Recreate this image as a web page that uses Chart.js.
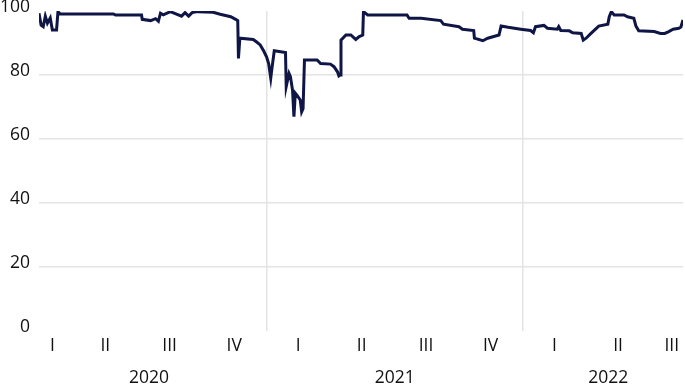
<!DOCTYPE html>
<html>
<head>
<meta charset="utf-8">
<script src="https://cdn.jsdelivr.net/npm/chart.js@4/dist/chart.umd.min.js"></script>
<style>
  html, body { margin: 0; padding: 0; background: #ffffff; }
  #wrap { width: 685px; height: 387px; }
</style>
</head>
<body>
<div id="wrap"><canvas id="c" width="685" height="387"></canvas></div>
<script>
// ---- data ----
const dates = [
  "2020-02-12","2020-02-15","2020-02-18","2020-02-21","2020-02-24","2020-02-28","2020-03-02","2020-03-08","2020-03-10","2020-03-13",
  "2020-05-28","2020-05-31","2020-07-07","2020-07-08","2020-07-20","2020-07-27","2020-07-31","2020-08-03","2020-08-07","2020-08-17",
  "2020-09-02","2020-09-07","2020-09-12","2020-09-17","2020-09-25","2020-10-17","2020-10-27","2020-11-11","2020-11-18","2020-11-21",
  "2020-11-22","2020-11-24","2020-12-13","2020-12-18","2020-12-23","2020-12-28","2021-01-01","2021-01-04","2021-01-07","2021-01-09",
  "2021-01-12","2021-01-28","2021-01-29","2021-02-02","2021-02-04","2021-02-07","2021-02-09","2021-02-11","2021-02-14","2021-02-18",
  "2021-02-20","2021-02-22","2021-02-24","2021-03-14","2021-03-19","2021-04-02","2021-04-07","2021-04-12","2021-04-14","2021-04-16",
  "2021-04-17","2021-04-24","2021-05-01","2021-05-08","2021-05-13","2021-05-18","2021-05-19","2021-05-25","2021-07-20","2021-07-23",
  "2021-08-09","2021-09-06","2021-09-10","2021-10-02","2021-10-07","2021-10-23","2021-10-24","2021-11-05","2021-11-12","2021-11-23",
  "2021-11-28","2021-12-01","2021-12-11","2021-12-29","2022-01-12","2022-01-16","2022-01-19","2022-01-31","2022-02-05","2022-02-19",
  "2022-02-21","2022-02-24","2022-03-08","2022-03-13","2022-03-25","2022-03-28","2022-04-01","2022-04-08","2022-04-19","2022-05-02",
  "2022-05-04","2022-05-07","2022-05-11","2022-05-25","2022-05-30","2022-06-08","2022-06-11","2022-06-15","2022-07-07","2022-07-16",
  "2022-07-22","2022-07-27","2022-08-03","2022-08-11","2022-08-14","2022-08-17"
];
const values = [
  99.3,95.6,95.1,98.4,96.2,97.8,94.1,94.1,99.8,99.1,
  99.1,98.75,98.75,97.4,97.0,97.6,96.8,99.3,98.8,99.8,
  98.4,99.5,98.4,99.5,99.8,99.6,99.0,98.2,97.4,97.0,
  85.2,91.5,91.1,90.3,89.4,87.5,85.7,83.6,79.0,82.6,
  87.6,87.0,76.4,80.5,79.5,75.3,67.0,74.3,73.5,72.2,
  68.5,69.5,84.7,84.7,83.6,83.4,82.6,81.0,79.7,80.0,
  90.9,92.5,92.5,91.1,92.0,92.5,99.8,98.75,98.75,97.7,
  97.7,97.0,95.9,95.1,94.3,93.9,91.5,90.7,91.5,92.2,
  92.5,95.3,94.9,94.3,93.9,93.2,95.1,95.5,94.6,94.3,
  95.1,93.9,93.8,93.2,93.0,90.9,91.5,93.0,95.3,95.9,
  98.2,99.8,98.75,98.75,98.2,97.7,95.3,93.8,93.6,93.0,
  93.0,93.5,94.3,94.6,95.0,97.2
];
const years = ["2020", "2021", "2022"];
const quarterLabels = ["I", "II", "III", "IV"];
const yTicks = [0, 20, 40, 60, 80, 100];

// ---- helpers ----
const DAY = 86400000;
const base = Date.UTC(2020, 0, 1);
function dayIndex(s) {
  const p = s.split("-").map(Number);
  return (Date.UTC(p[0], p[1] - 1, p[2]) - base) / DAY;
}
function dayOf(y, m, d) { return (Date.UTC(y, m, d) - base) / DAY; }

const points = dates.map((d, i) => ({ x: dayIndex(d), y: values[i] }));
const xMin = points[0].x;
const xMax = points[points.length - 1].x;
const fp = dates[0].split("-").map(Number);
const lp = dates[dates.length - 1].split("-").map(Number);
const labelStart = dayOf(fp[0], fp[1] - 1, 1);   // first day of first month with data
const labelEnd = dayOf(lp[0], lp[1], 1);         // first day after last month with data

// quarter label ticks (centred on the months covered)
const quarterTicks = [];
const boundaryTicks = [];
years.forEach((ys, yi) => {
  const y = Number(ys);
  if (yi > 0) boundaryTicks.push(dayOf(y, 0, 1));
  quarterLabels.forEach((q, qi) => {
    const s = Math.max(dayOf(y, qi * 3, 1), labelStart);
    const e = Math.min(dayOf(y, qi * 3 + 3, 1), labelEnd);
    if (e <= s) return;
    quarterTicks.push({ value: (s + e) / 2, label: q });
  });
});
const yearTicks = years.map(ys => {
  const y = Number(ys);
  const s = Math.max(dayOf(y, 0, 1), labelStart);
  const e = Math.min(dayOf(y + 1, 0, 1), labelEnd);
  return { value: (s + e) / 2, label: ys };
});
const boundarySet = new Set(boundaryTicks);

const FONT = { family: "'Open Sans', 'Liberation Sans', sans-serif", size: 17.5 };
const TXT = "#111111";
const GRID = "#e3e3e3";

new Chart(document.getElementById("c"), {
  type: "line",
  data: {
    datasets: [{
      data: points,
      borderColor: "#0f1646",
      borderWidth: 3,
      pointRadius: 0,
      tension: 0,
      fill: false
    }]
  },
  options: {
    responsive: false,
    devicePixelRatio: 1,
    animation: false,
    events: [],
    layout: { padding: { top: 11, right: 2, left: 0, bottom: 0 } },
    plugins: { legend: { display: false }, tooltip: { enabled: false } },
    scales: {
      y: {
        min: 0, max: 100,
        afterBuildTicks: s => { s.ticks = yTicks.map(v => ({ value: v })); },
        afterFit: s => { s.width = 39; s.paddingTop = 0; s.paddingBottom = 0; },
        ticks: { font: FONT, color: TXT, padding: 9, labelOffset: -4 },
        grid: {
          drawTicks: false,
          color: c => (c.tick && (c.tick.value === 0 || c.tick.value === 100)) ? "rgba(0,0,0,0)" : GRID,
          lineWidth: 1.5
        },
        border: { display: false }
      },
      x: {
        type: "linear",
        position: "bottom",
        min: xMin, max: xMax,
        afterBuildTicks: s => {
          s.ticks = quarterTicks.map(t => ({ value: t.value }))
            .concat(boundaryTicks.map(v => ({ value: v })));
        },
        afterFit: s => { s.height = 30; s.paddingLeft = 0; s.paddingRight = 0; },
        ticks: {
          font: FONT, color: TXT, padding: 5, autoSkip: false, maxRotation: 0,
          callback: v => {
            const t = quarterTicks.find(q => q.value === v);
            return t ? t.label : "";
          }
        },
        grid: {
          drawTicks: false,
          color: c => (c.tick && boundarySet.has(c.tick.value)) ? GRID : "rgba(0,0,0,0)",
          lineWidth: 1.5
        },
        border: { display: false }
      },
      x2: {
        type: "linear",
        position: "bottom",
        min: xMin, max: xMax,
        afterBuildTicks: s => { s.ticks = yearTicks.map(t => ({ value: t.value })); },
        afterFit: s => { s.height = 26; s.paddingLeft = 0; s.paddingRight = 0; },
        ticks: {
          font: FONT, color: TXT, padding: 7, autoSkip: false, maxRotation: 0,
          callback: v => {
            const t = yearTicks.find(q => q.value === v);
            return t ? t.label : "";
          }
        },
        grid: { display: false, drawTicks: false },
        border: { display: false }
      }
    }
  }
});
</script>
</body>
</html>
